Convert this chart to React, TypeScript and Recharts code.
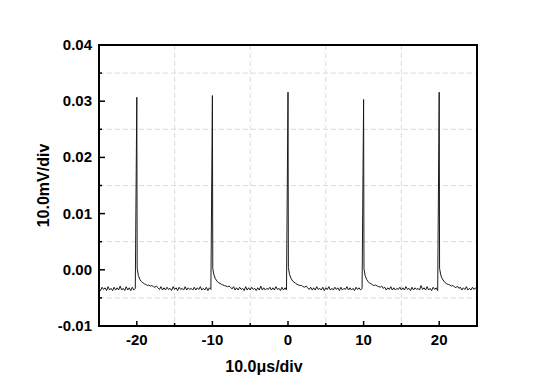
import React from "react";
import { CartesianGrid, Line, LineChart, ReferenceArea, XAxis, YAxis } from "recharts";

// time step between scope samples, µs
const sampleStep = 0.2;

const pulseTimes = [-20, -10, 0, 10, 20];
// first point after the fast edge of each spike (mV)
const pulseFoot = [0.3, 0.2, 0.4, 0.2, 0.3];

// trace in mV, lead-in from -25 µs up to the first pulse
const leadIn = [
  -3.3, -3.7, -3.1, -3.5, -3.2, -3.7, -3.0, -3.6, -3.3, -3.7, -3.1, -3.6, -3.2,
  -3.6, -2.9, -3.6, -3.3, -3.7, -3.0, -3.6, -3.2, -3.7, -3.1, -3.6, -3.3,
];

// one window per pulse, starting at the pulse time (mV)
const pulseWindows = [
  [
    30.7, -1.0, -1.7, -2.1, -2.3, -2.5, -2.6, -2.8, -2.7, -2.9, -2.8, -3.0, -3.1,
    -2.9, -3.2, -3.5, -3.0, -3.6, -3.2, -3.6, -3.1, -3.5, -3.3, -3.7, -3.0, -3.5,
    -3.2, -3.7, -3.1, -3.5, -3.3, -3.6, -3.0, -3.6, -3.2, -3.5, -3.3, -3.6, -3.1,
    -3.6, -3.2, -3.5, -3.0, -3.6, -3.3, -3.6, -3.1, -3.7, -3.2, -3.5,
  ],
  [
    31.0, -0.9, -1.6, -2.0, -2.3, -2.4, -2.6, -2.7, -2.8, -2.9, -3.0, -2.9, -3.1,
    -3.4, -3.0, -3.6, -3.2, -3.6, -3.1, -3.5, -3.3, -3.7, -3.0, -3.6, -3.2, -3.6,
    -3.1, -3.5, -3.3, -3.7, -3.2, -3.6, -2.9, -3.6, -3.2, -3.6, -3.3, -3.5, -3.1,
    -3.6, -3.2, -3.6, -3.0, -3.5, -3.3, -3.7, -3.1, -3.6, -3.2, -3.6,
  ],
  [
    31.6, -0.8, -1.5, -2.0, -2.2, -2.4, -2.6, -2.7, -2.8, -2.8, -3.0, -3.1, -2.9,
    -3.2, -3.5, -3.1, -3.6, -3.2, -3.6, -3.0, -3.5, -3.3, -3.6, -3.1, -3.7, -3.2,
    -3.5, -3.0, -3.6, -3.3, -3.6, -3.1, -3.5, -3.2, -3.7, -3.1, -3.6, -3.3, -3.5,
    -3.0, -3.6, -3.2, -3.6, -3.3, -3.7, -3.1, -3.5, -3.2, -3.6, -3.3,
  ],
  [
    30.3, -1.0, -1.7, -2.1, -2.4, -2.5, -2.7, -2.8, -2.7, -2.9, -3.0, -3.1, -2.9,
    -3.3, -3.1, -3.6, -3.2, -3.5, -3.0, -3.6, -3.2, -3.6, -3.3, -3.5, -3.1, -3.6,
    -3.2, -3.6, -3.0, -3.5, -3.3, -3.7, -3.1, -3.6, -3.2, -3.5, -3.3, -3.6, -2.8,
    -3.5, -3.2, -3.6, -3.0, -3.6, -3.3, -3.7, -3.1, -3.5, -3.2, -3.7,
  ],
  [
    31.6, -0.9, -1.6, -2.0, -2.3, -2.5, -2.6, -2.7, -2.9, -2.8, -3.0, -3.2, -2.9,
    -3.3, -3.1, -3.6, -3.2, -3.5, -3.0, -3.6, -3.3, -3.6, -3.1, -3.5, -3.2, -3.6,
  ],
];

const xMajor = [-20, -10, 0, 10, 20];
const xTicks = [-20, -15, -10, -5, 0, 5, 10, 15, 20];
const xGrid = [-15, -5, 5, 15];
const yMajor = [-0.01, 0, 0.01, 0.02, 0.03, 0.04];
const yTicks = [-0.01, -0.005, 0, 0.005, 0.01, 0.015, 0.02, 0.025, 0.03, 0.035, 0.04];
const yGrid = [-0.005, 0.005, 0.015, 0.025, 0.035];

const data: { t: number; v: number }[] = [];
leadIn.forEach((mv, k) => data.push({ t: -25 + k * sampleStep, v: mv / 1000 }));
pulseWindows.forEach((win, i) => {
  win.forEach((mv, k) => {
    data.push({ t: pulseTimes[i] + k * sampleStep, v: mv / 1000 });
    if (k === 0) data.push({ t: pulseTimes[i] + 0.05, v: pulseFoot[i] / 1000 });
  });
});

const font = "'Liberation Sans', Arial, sans-serif";
const isMajor = (list: number[], val: number) => list.some((m) => Math.abs(m - val) < 1e-9);

function XTick(props: any) {
  const { x, y, payload } = props;
  const axisY = y - 8;
  const major = isMajor(xMajor, payload.value);
  return (
    <g>
      <line x1={x} x2={x} y1={axisY} y2={axisY - (major ? 5 : 3)} stroke="#000" strokeWidth={1.5} />
      {major ? (
        <text x={x} y={axisY + 19} textAnchor="middle" fontFamily={font} fontWeight="bold" fontSize={15} fill="#000">
          {payload.value}
        </text>
      ) : null}
    </g>
  );
}

function YTick(props: any) {
  const { x, y, payload } = props;
  const axisX = x + 8;
  const major = isMajor(yMajor, payload.value);
  return (
    <g>
      <line x1={axisX} x2={axisX + (major ? 6 : 3)} y1={y} y2={y} stroke="#000" strokeWidth={1.5} />
      {major ? (
        <text x={axisX - 7} y={y + 5} textAnchor="end" fontFamily={font} fontWeight="bold" fontSize={15} fill="#000">
          {payload.value.toFixed(2)}
        </text>
      ) : null}
    </g>
  );
}

export default function App() {
  return (
    <div style={{ position: "absolute", left: 0, top: 0, background: "#fff" }}>
      <LineChart width={553} height={391} data={data} margin={{ top: 45, right: 76, bottom: 35, left: 39 }}>
        <CartesianGrid
          horizontalValues={yGrid}
          verticalValues={xGrid}
          stroke="#dadada"
          strokeDasharray="5 3"
        />
        <XAxis
          dataKey="t"
          type="number"
          domain={[-25, 25]}
          ticks={xTicks}
          interval={0}
          height={30}
          axisLine={false}
          tickLine={false}
          tickSize={0}
          tickMargin={8}
          tick={<XTick />}
          label={{
            value: "10.0\u03bcs/div",
            position: "bottom",
            offset: 5,
            dx: -24,
            style: { fontFamily: font, fontWeight: "bold", fontSize: 16, fill: "#000" },
          }}
        />
        <YAxis
          type="number"
          domain={[-0.01, 0.04]}
          ticks={yTicks}
          interval={0}
          width={60}
          axisLine={false}
          tickLine={false}
          tickSize={0}
          tickMargin={8}
          tick={<YTick />}
          label={{
            value: "10.0mV/div",
            angle: -90,
            position: "center",
            dx: -26,
            style: { fontFamily: font, fontWeight: "bold", fontSize: 16, fill: "#000" },
          }}
        />
        <Line
          dataKey="v"
          type="linear"
          stroke="#1a1a1a"
          strokeWidth={1}
          dot={false}
          activeDot={false}
          isAnimationActive={false}
        />
        <ReferenceArea
          x1={-25}
          x2={25}
          y1={-0.01}
          y2={0.04}
          fill="none"
          stroke="#000"
          strokeWidth={2}
          ifOverflow="visible"
        />
      </LineChart>
    </div>
  );
}
